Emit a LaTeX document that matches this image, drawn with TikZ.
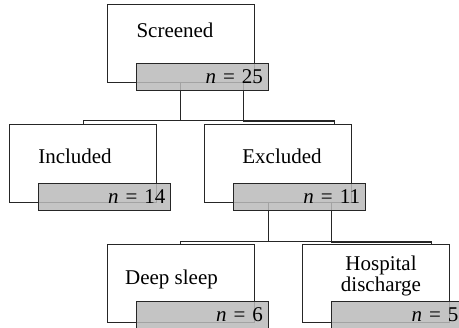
\documentclass[tikz,border=0pt]{standalone}
\usepackage{fontspec}
\setmainfont{Liberation Serif}
\usetikzlibrary{positioning, calc}
\tikzset{%
  box/.style={draw=black!85, fill=white, line width=0.8pt, minimum width=147pt, minimum height=78pt, inner sep=0pt, outer sep=0pt},
  count/.style={
    draw=black!85,
    line width=0.8pt,
    fill=black!27,
    fill opacity=0.85,
    text opacity=1,
    minimum height=27pt,
    text width=122pt,
    inner xsep=5pt,
    inner ysep=0pt,
    outer sep=0pt,
    align=right,
    font=\fontsize{21}{21}\selectfont
  },
  lbl/.style={inner sep=0pt, align=center, font=\fontsize{21}{20.7}\selectfont},
  link/.style={draw=black!85, line width=0.8pt}
}

\begin{document}
\begin{tikzpicture}[x=1pt,y=-1pt]
  \useasboundingbox[fill=white] (0,0) rectangle (459,328);

  \node[box] (scr) at (180.5,43) {};
  \node[box] (inc) [below = 42pt of scr, xshift=-97.5pt] {};
  \node[box] (exc) [below = 42pt of scr, xshift=97pt] {};
  \node[box] (deep) [below = 42pt of exc, xshift=-97pt] {};
  \node[box] (hosp) [below = 42pt of exc, xshift=98.5pt] {};

  \node[lbl, anchor=base] (scrt) at (175,37.3) {Screened};
  \node[lbl, anchor=base] (inct) at (75,163.3) {Included};
  \node[lbl, anchor=base] (exct) at (282,163.3) {Excluded};
  \node[lbl, anchor=base] (deept) at (171.5,285) {Deep sleep};
  \node[lbl, anchor=base] (hospt) at (381,291.7) {Hospital\\discharge};

  % connectors
  \draw[link] (scr.south) |- ($(inc.north)+(0,-4)$) -- (inc.north);
  \draw[link] (scr.south) |- ($(exc.north west)+(130,-4)$) -- ($(exc.north west)+(130,0)$);
  \draw[link] ($(scr.south)+(62.5,0)$) |- ($(exc.north west)+(130,-2.5)$);

  \draw[link] ($(exc.south west)+(64,0)$) |- ($(deep.north)+(0,-3)$) -- (deep.north);
  \draw[link] ($(exc.south west)+(64,0)$) |- ($(hosp.north west)+(129,-3)$) -- ($(hosp.north west)+(129,0)$);
  \draw[link] ($(exc.south west)+(127,0)$) |- ($(hosp.north west)+(129,-1.5)$);

  % counts
  \node[count] (scrn) [below left = -19pt and -14pt of scr.south east] {\textit{n}~=~25};
  \node[count] (incn) [below left = -19pt and -14pt of inc.south east] {\textit{n}~=~14};
  \node[count] (excn) [below left = -19pt and -14pt of exc.south east] {\textit{n}~=~11};
  \node[count] (deepn) [below left = -21pt and -14pt of deep.south east] {\textit{n}~=~6};
  \node[count] (hospn) [below left = -21pt and -14pt of hosp.south east] {\textit{n}~=~5};
\end{tikzpicture}
\end{document}
